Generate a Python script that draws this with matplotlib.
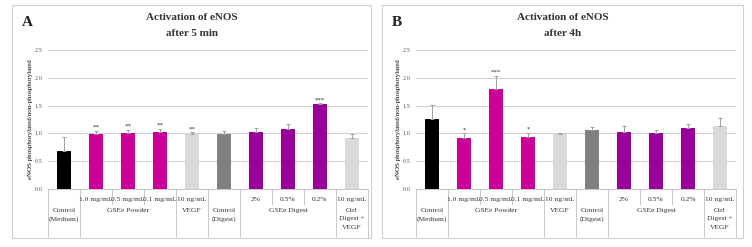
import matplotlib
matplotlib.use("Agg")
import matplotlib.pyplot as plt
from matplotlib.patches import Rectangle

categories = ["Control (Medium)", "GSEe 1.0", "GSEe 0.5", "GSEe 0.1", "VEGF",
              "Control (Digest)", "Digest 2%", "Digest 0.5%", "Digest 0.2%", "Ctrl Digest + VEGF"]
sub_labels = ["", "1.0 mg/mL", "0.5 mg/mL", "0.1 mg/mL", "10 ng/mL",
              "", "2%", "0.5%", "0.2%", "10 ng/mL"]
group_labels = ["Control\n(Medium)", "GSEe Powder", "VEGF", "Control\n(Digest)", "GSEe Digest", "Ctrl\nDigest +\nVEGF"]
group_spans = [(0, 0), (1, 3), (4, 4), (5, 5), (6, 8), (9, 9)]

values_a = [0.68, 0.99, 1.01, 1.03, 0.99, 0.99, 1.02, 1.08, 1.53, 0.92]
errors_a = [0.25, 0.06, 0.05, 0.05, 0.03, 0.05, 0.08, 0.09, 0.01, 0.07]
stars_a = ["", "**", "**", "**", "**", "", "", "", "***", ""]

values_b = [1.26, 0.92, 1.80, 0.93, 0.99, 1.06, 1.03, 1.00, 1.10, 1.13]
errors_b = [0.25, 0.08, 0.23, 0.08, 0.02, 0.06, 0.10, 0.07, 0.07, 0.15]
stars_b = ["", "*", "***", "*", "", "", "", "", "", ""]

colors = ["#000000", "#CC0099", "#CC0099", "#CC0099", "#D9D9D9",
          "#808080", "#990099", "#990099", "#990099", "#D9D9D9"]

SERIF = ["Liberation Serif", "DejaVu Serif"]
plt.rcParams["font.family"] = SERIF

W, H = 752, 247
fig = plt.figure(figsize=(W / 100, H / 100), dpi=100)


def fx(px):
    return px / W


def fy(py):
    return 1 - py / H


def panel(values, errors, stars, letter, subtitle, border, plot):
    bx0, by0, bx1, by1 = border
    fig.patches.append(Rectangle((fx(bx0), fy(by1)), fx(bx1 - bx0), (by1 - by0) / H,
                                 transform=fig.transFigure, fill=False,
                                 edgecolor="#D0D0D0", linewidth=0.8))
    px0, py0, px1, py1 = plot
    pw = px1 - px0
    ax = fig.add_axes([fx(px0), fy(py1), fx(pw), (py1 - py0) / H])
    n = len(values)
    x = list(range(n))
    ax.bar(x, values, width=0.44, color=colors, zorder=3)
    ax.errorbar(x, values, yerr=[[0] * n, errors], fmt="none", ecolor="#A0A0A0",
                elinewidth=0.7, capsize=1.5, capthick=0.7, zorder=4)
    for xi, v, e, s in zip(x, values, errors, stars):
        if s:
            ax.text(xi, v + e + 0.02, s, ha="center", va="bottom", fontsize=5, color="#333333")
    ax.set_xlim(-0.5, n - 0.5)
    ax.set_ylim(0, 2.5)
    ax.set_yticks([0, 0.5, 1.0, 1.5, 2.0, 2.5])
    ax.set_yticklabels(["0.0", "0.5", "1.0", "1.5", "2.0", "2.5"])
    ax.yaxis.grid(True, color="#D0D0D0", linewidth=0.8, zorder=0)
    ax.set_axisbelow(True)
    for sp in ["top", "right", "left"]:
        ax.spines[sp].set_visible(False)
    ax.spines["bottom"].set_color("#C8C8C8")
    ax.spines["bottom"].set_linewidth(0.8)
    ax.tick_params(axis="y", length=0, labelsize=4.5, labelcolor="#555555", pad=4)
    ax.set_xticks([])
    ax.set_ylabel("eNOS phosphorylated/non-phosphorylated", fontsize=5)
    ax.yaxis.set_label_coords(-15 / pw, 0.5)

    # category table under the axis
    ph = py1 - py0

    def ay(py):
        return -(py - py1) / ph

    tr = ax.get_xaxis_transform()
    for b in [-0.5, 0.5, 3.5, 4.5, 5.5, 8.5, 9.5]:
        ax.plot([b, b], [0, ay(237)], transform=tr, color="#C8C8C8", lw=0.7, clip_on=False)
    for b in [1.5, 2.5, 6.5, 7.5]:
        ax.plot([b, b], [0, ay(204)], transform=tr, color="#C8C8C8", lw=0.7, clip_on=False)
    for xi, lab in zip(x, sub_labels):
        if lab:
            ax.text(xi, ay(199), lab, transform=tr, ha="center", va="center", fontsize=5.4, color="#333333")
    for (a, b), lab in zip(group_spans, group_labels):
        ax.text((a + b) / 2, ay(207.5), lab, transform=tr, ha="center", va="top",
                fontsize=5.4, color="#333333", linespacing=1.95)

    cx = (bx0 + bx1) / 2
    fig.text(fx(cx), fy(17), "Activation of eNOS", ha="center", va="center",
             fontsize=8, fontweight="bold", color="#333333")
    fig.text(fx(cx), fy(33), subtitle, ha="center", va="center",
             fontsize=8, fontweight="bold", color="#333333")
    fig.text(fx(bx0 + 15), fy(22), letter, ha="center", va="center",
             fontsize=11, fontweight="bold", color="#222222")
    return ax


panel(values_a, errors_a, stars_a, "A", "after 5 min", (12, 5, 371, 238), (48, 50, 368, 189))
panel(values_b, errors_b, stars_b, "B", "after 4h", (382, 5, 743, 238), (416, 50, 736, 189))

fig.savefig("out.png", dpi=100, facecolor="white")
